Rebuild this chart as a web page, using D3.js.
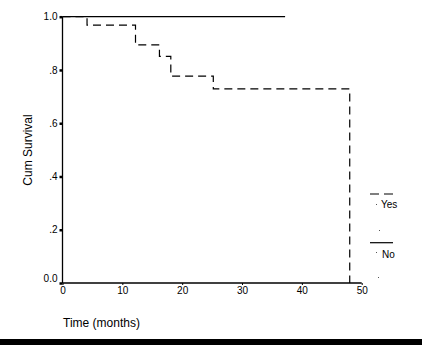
<!DOCTYPE html>
<html>
<head>
<meta charset="utf-8">
<script src="https://cdn.jsdelivr.net/npm/d3@7"></script>
<style>
  html, body { margin: 0; padding: 0; background: #fff; }
  svg { display: block; }
  text { font-family: Arial, "Liberation Sans", sans-serif; fill: #000; }
</style>
</head>
<body>
<svg id="chart" width="422" height="345"></svg>
<script>
// ---- data ----
const yesTimes = [0, 4.1, 12.2, 16.2, 18.1, 25.2, 48.0];
const yesSurv  = [1.0, 0.968, 0.894, 0.851, 0.777, 0.729, 0.0];
const noTimes  = [0, 37.2];
const noSurv   = [1.0, 1.0];
const xTicks = [0, 10, 20, 30, 40, 50];
const yTicks = [0, 0.2, 0.4, 0.6, 0.8, 1.0];
const yTickLabels = ["0.0", ".2", ".4", ".6", ".8", "1.0"];
const legendLabels = ["Yes", "No"];

const svg = d3.select("#chart");
const x = d3.scaleLinear().domain([0, 50]).range([62.5, 361.7]);
const y = d3.scaleLinear().domain([0, 1]).range([283, 16.7]);

// axes
const yAxis = d3.axisLeft(y).tickValues(yTicks)
  .tickFormat((d, i) => yTickLabels[i]).tickSize(3).tickPadding(2);
const gy = svg.append("g").attr("transform", `translate(${x(0)},0)`).call(yAxis);
gy.select(".domain").attr("d", `M0,${y(1)}V${y(0)}`).attr("stroke", "#000").attr("stroke-width", 1.3);
gy.selectAll(".tick line").attr("stroke", "#000").attr("stroke-width", 2.5);
gy.selectAll(".tick text").attr("font-size", 10).attr("font-family", "Arial, 'Liberation Sans', sans-serif")
  .attr("dy", (d) => d === 0 ? "-0.2em" : "0.32em");

const xAxis = d3.axisBottom(x).tickValues(xTicks).tickSize(2).tickPadding(2);
const gx = svg.append("g").attr("transform", `translate(0,${y(0)})`).call(xAxis);
gx.select(".domain").attr("d", `M${x(0)},0H${x(50)}`).attr("stroke", "#000").attr("stroke-width", 1.3);
gx.selectAll(".tick line").attr("stroke", "#000").attr("stroke-width", 1);
gx.selectAll(".tick text").attr("font-size", 10).attr("font-family", "Arial, 'Liberation Sans', sans-serif");

// survival curves
const line = d3.line().x(d => x(d[0])).y(d => y(d[1])).curve(d3.curveStepAfter);
svg.append("path")
  .attr("d", line(noTimes.map((t, i) => [t, noSurv[i]])))
  .attr("fill", "none").attr("stroke", "#000").attr("stroke-width", 1.2);
svg.append("path")
  .attr("d", line(yesTimes.map((t, i) => [t, yesSurv[i]])))
  .attr("fill", "none").attr("stroke", "#000").attr("stroke-width", 1.2)
  .attr("stroke-dasharray", "8,5");

// axis titles
svg.append("text").attr("x", 63).attr("y", 327).attr("font-size", 12).text("Time (months)");
svg.append("text").attr("transform", "translate(32,150) rotate(-90)")
  .attr("text-anchor", "middle").attr("font-size", 12).text("Cum Survival");

// legend
const lg = svg.append("g");
lg.append("line").attr("x1", 370).attr("x2", 393).attr("y1", 194).attr("y2", 194)
  .attr("stroke", "#000").attr("stroke-width", 1.2).attr("stroke-dasharray", "9,5");
lg.append("line").attr("x1", 370).attr("x2", 393).attr("y1", 242.7).attr("y2", 242.7)
  .attr("stroke", "#000").attr("stroke-width", 1.2);
lg.append("text").attr("x", 381).attr("y", 208).attr("font-size", 10).text(legendLabels[0]);
lg.append("text").attr("x", 382).attr("y", 258).attr("font-size", 10).text(legendLabels[1]);
[[376, 204], [379, 230], [376, 252], [378, 277]].forEach(p => {
  lg.append("rect").attr("x", p[0]).attr("y", p[1]).attr("width", 1).attr("height", 1).attr("fill", "#555");
});

// bottom black bar
svg.append("rect").attr("x", 0).attr("y", 339).attr("width", 422).attr("height", 6).attr("fill", "#000");
</script>
</body>
</html>
